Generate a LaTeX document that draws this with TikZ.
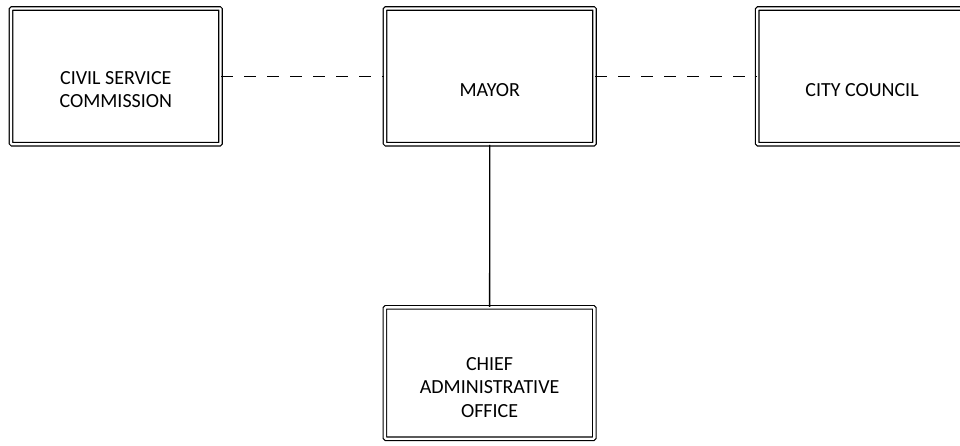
\documentclass[tikz,border=0pt]{standalone}
\usepackage{fontspec}
\setmainfont{Carlito}
\begin{document}
\begin{tikzpicture}[x=1pt,y=-1pt,
  office/.style={draw=black, line width=1.2pt, double=white, double distance=2.3pt,
    rounded corners=1pt, rectangle, minimum width=209.5pt, minimum height=135.8pt,
    inner sep=0pt},
  caption/.style={inner sep=0pt, align=center, font=\fontsize{20pt}{23.5pt}\selectfont,
    yshift=-13.5pt},
  link/.style={line width=1.3pt, dash pattern=on 12pt off 11pt},
  report/.style={line width=1.3pt}]
  \useasboundingbox (0,0) rectangle (960,445);

  % boxes
  \node[office] (csc)   at (115.8,76.3) {};
  \node[office] (mayor) at (489.8,76.3) {};
  \node[office] (cc)    at (862,76.3)   {};
  \node[office, minimum height=131.3pt] (cao) at (489.6,373) {};

  % captions
  \node[caption] (csc-t)   at (csc.center)   {CIVIL SERVICE\\COMMISSION};
  \node[caption] (mayor-t) at (mayor.center) {MAYOR};
  \node[caption] (cc-t)    at (cc.center)    {CITY COUNCIL};
  \node[caption, yshift=-1pt] (cao-t) at (cao.center) {CHIEF\\ADMINISTRATIVE\\OFFICE};

  % connectors
  \draw[link] (csc.east) -- (mayor.west);
  \draw[link] (mayor.east) -- (cc.west);
  \draw[report] (mayor.south) -- (cao.north);
\end{tikzpicture}
\end{document}
